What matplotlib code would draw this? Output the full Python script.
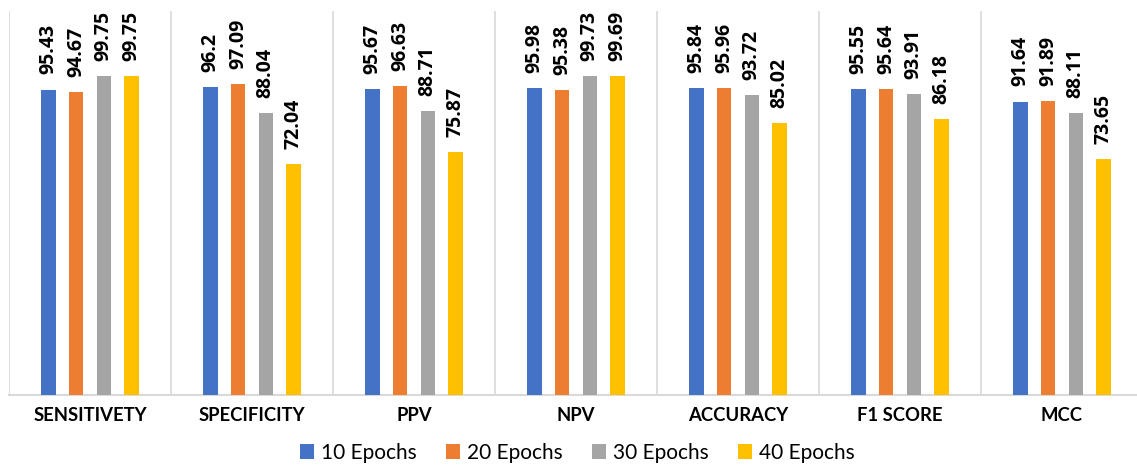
import numpy as np
import matplotlib.pyplot as plt

# metric scores per training length
categories = ['SENSITIVETY', 'SPECIFICITY', 'PPV', 'NPV', 'ACCURACY', 'F1 SCORE', 'MCC']
epochs_10 = [95.43, 96.2, 95.67, 95.98, 95.84, 95.55, 91.64]
epochs_20 = [94.67, 97.09, 96.63, 95.38, 95.96, 95.64, 91.89]
epochs_30 = [99.75, 88.04, 88.71, 99.73, 93.72, 93.91, 88.11]
epochs_40 = [99.75, 72.04, 75.87, 99.69, 85.02, 86.18, 73.65]
series_names = ['10 Epochs', '20 Epochs', '30 Epochs', '40 Epochs']
colors = ['#4472C4', '#ED7D31', '#A5A5A5', '#FFC000']

plt.rcParams['font.family'] = ['Lato', 'DejaVu Sans']

fig = plt.figure(figsize=(11.37, 4.69), dpi=100)
# plot area runs a little past the right edge of the figure
ax = fig.add_axes([9 / 1137, (469 - 395) / 469, 1134 / 1137, 384 / 469])

x = np.arange(len(categories))
width = 0.09
step = 0.171
offsets = (np.arange(4) - 1.5) * step

for vals, name, col, off in zip([epochs_10, epochs_20, epochs_30, epochs_40],
                                series_names, colors, offsets):
    bars = ax.bar(x + off, vals, width, color=col, label=name, zorder=3)
    for b, v in zip(bars, vals):
        ax.annotate(f'{v:g}', (b.get_x() + b.get_width() / 2, v),
                    xytext=(0, 11), textcoords='offset points',
                    rotation=90, ha='center', va='bottom',
                    fontsize=14, fontweight='bold', family='Open Sans',
                    color='#000000')

ax.set_xlim(-0.5, len(categories) - 0.5)
ax.set_ylim(0, 120)

# light separators between the groups
for b in np.arange(len(categories) + 1) - 0.5:
    ax.axvline(b, color='#D9D9D9', lw=1.2, zorder=1)

ax.set_yticks([])
ax.set_xticks(x)
ax.set_xticklabels(categories, fontsize=13.3, fontweight='bold')
ax.tick_params(axis='x', length=0, pad=8.5)
for s in ['top', 'right', 'left']:
    ax.spines[s].set_visible(False)
ax.spines['bottom'].set_color('#D9D9D9')
ax.spines['bottom'].set_linewidth(1.5)

fig.legend(loc='center', bbox_to_anchor=(0.5075, (469 - 453) / 469),
           ncol=4, frameon=False, fontsize=15, handlelength=0.67, handleheight=0.7,
           handletextpad=0.34, columnspacing=1.4)

fig.savefig('out.png', dpi=100)
